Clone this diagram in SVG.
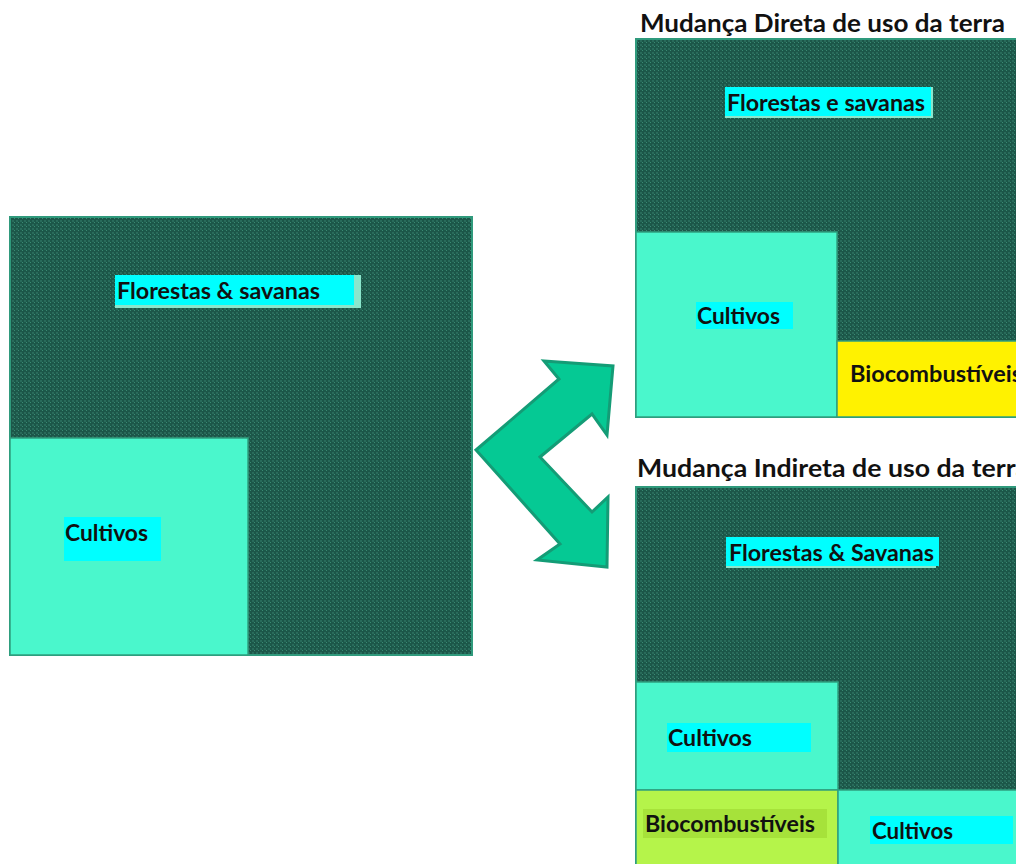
<svg xmlns="http://www.w3.org/2000/svg" width="1016" height="864" viewBox="0 0 1016 864">
<defs>
<pattern id="forest" x="0" y="0" width="4" height="4" patternUnits="userSpaceOnUse">
<rect width="4" height="4" fill="#1c5749"/>
<rect x="0" y="0" width="2" height="2" fill="#296b5b"/>
<rect x="2" y="2" width="1" height="1" fill="#3a8a73"/>
</pattern>
<style>
.forest{fill:url(#forest);stroke:#2f9a7c;stroke-width:2}
.crop{fill:#4af7cc;stroke:#2fa07f;stroke-width:1.5}
.bio{fill:#fff200;stroke:#2fa07f;stroke-width:1.5}
.bio2{fill:#b5f44a;stroke:#2fa07f;stroke-width:1.5}
.cyan{fill:#00ffff}
.lbl{font-family:Lato,"Liberation Sans",sans-serif;font-weight:bold;font-size:22px;fill:#111}
.ttl{font-family:Lato,"Liberation Sans",sans-serif;font-weight:bold;font-size:25px;fill:#111}
</style>
</defs>

<g id="left-landscape">
<rect class="forest" x="10" y="217" width="462" height="438"/>
<rect x="115" y="275" width="246" height="33" fill="#8ae6cc"/>
<rect class="cyan" x="115" y="275" width="239" height="30"/>
<text class="lbl" x="117" y="299" textLength="203" lengthAdjust="spacingAndGlyphs">Florestas &amp; savanas</text>
<rect class="crop" x="10" y="438" width="238" height="217"/>
<rect class="cyan" x="64" y="517" width="97" height="44"/>
<text class="lbl" x="65" y="541" textLength="83" lengthAdjust="spacingAndGlyphs">Cultivos</text>
</g>

<g id="connectors">
<polygon points="476,450 559,379 544,361 613,366 607,435 592,414 540,457 592,512 608,497 607,567 537,560 560,544" fill="#05c994" stroke="#149c76" stroke-width="3" stroke-linejoin="miter"/>
</g>

<g id="direct-change">
<text class="ttl" x="640" y="32" textLength="365" lengthAdjust="spacingAndGlyphs">Mudança Direta de uso da terra</text>
<rect class="forest" x="636" y="39" width="390" height="378"/>
<rect x="725" y="87" width="208" height="31" fill="#8ae6cc"/>
<rect class="cyan" x="725" y="87" width="206" height="29"/>
<text class="lbl" x="727" y="111" textLength="198" lengthAdjust="spacingAndGlyphs">Florestas e savanas</text>
<rect class="crop" x="636" y="232" width="201" height="185"/>
<rect class="cyan" x="696" y="302" width="97" height="27"/>
<text class="lbl" x="697" y="324" textLength="83" lengthAdjust="spacingAndGlyphs">Cultivos</text>
<rect class="bio" x="837" y="341" width="189" height="76"/>
<text class="lbl" x="850" y="382" textLength="172" lengthAdjust="spacingAndGlyphs">Biocombustíveis</text>
</g>

<g id="indirect-change">
<text class="ttl" x="637" y="477" textLength="392" lengthAdjust="spacingAndGlyphs">Mudança Indireta de uso da terra</text>
<rect class="forest" x="636" y="487" width="390" height="390"/>
<rect x="726" y="537" width="210" height="31" fill="#8ae6cc"/>
<rect class="cyan" x="726" y="537" width="213" height="29"/>
<text class="lbl" x="729" y="561" textLength="205" lengthAdjust="spacingAndGlyphs">Florestas &amp; Savanas</text>
<rect class="crop" x="636" y="682" width="202" height="108"/>
<rect class="cyan" x="667" y="723" width="144" height="29"/>
<text class="lbl" x="668" y="746" textLength="84" lengthAdjust="spacingAndGlyphs">Cultivos</text>
<rect class="bio2" x="636" y="790" width="202" height="80"/>
<rect x="643" y="809" width="184" height="29" fill="#a6e23a"/>
<text class="lbl" x="645" y="832" textLength="170" lengthAdjust="spacingAndGlyphs">Biocombustíveis</text>
<rect class="crop" x="838" y="790" width="188" height="80"/>
<rect class="cyan" x="870" y="816" width="143" height="28"/>
<text class="lbl" x="872" y="839" textLength="81" lengthAdjust="spacingAndGlyphs">Cultivos</text>
</g>
</svg>
